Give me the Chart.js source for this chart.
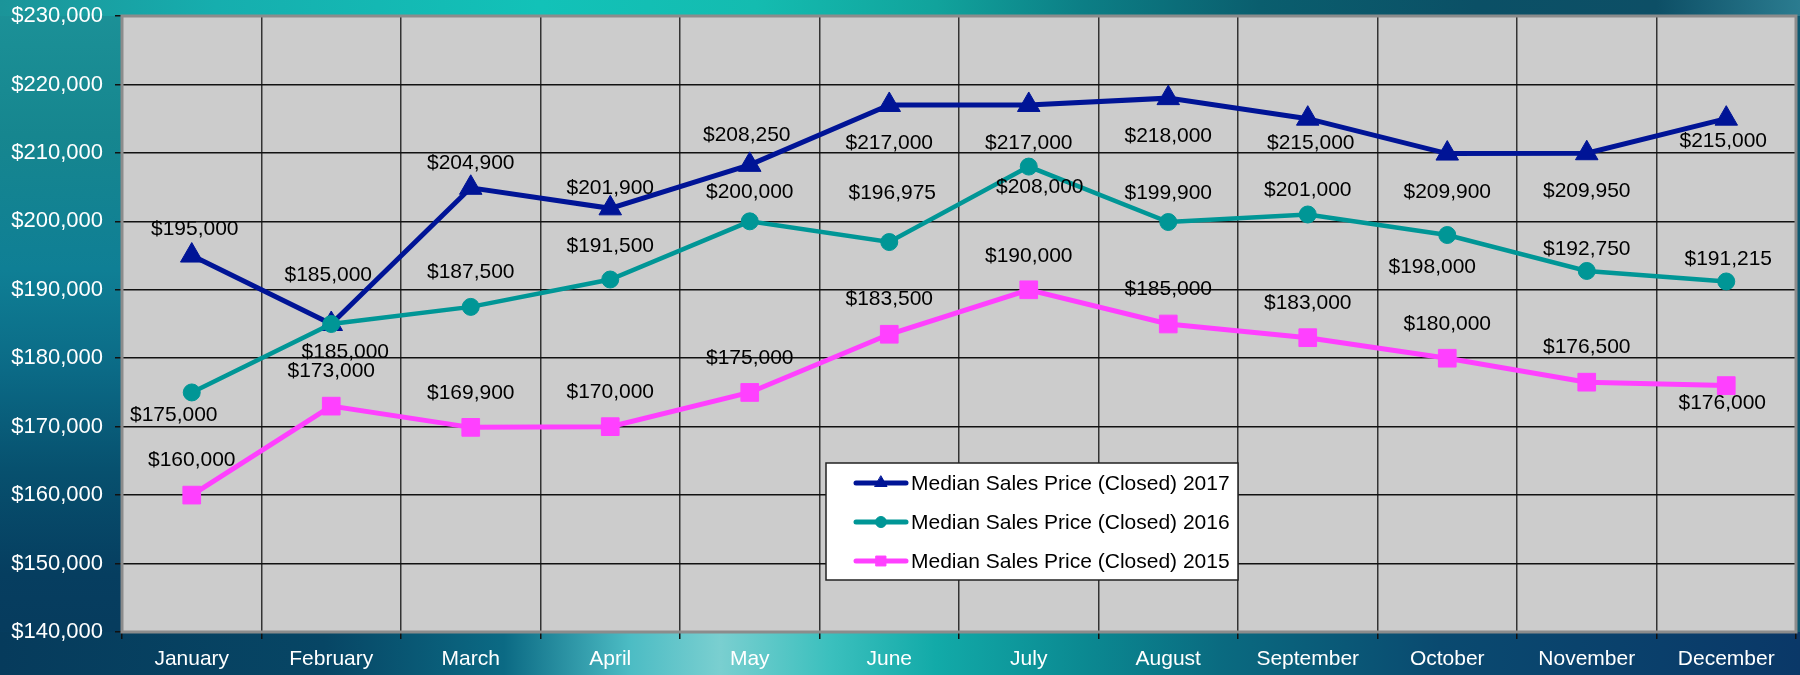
<!DOCTYPE html>
<html>
<head>
<meta charset="utf-8">
<title>Median Sales Price (Closed)</title>
<script src="https://cdn.jsdelivr.net/npm/chart.js@4.4.1/dist/chart.umd.min.js"></script>
<style>
  html, body { margin: 0; padding: 0; }
  body { width: 1800px; height: 675px; overflow: hidden; }
  #wrap {
    position: relative;
    width: 1800px;
    height: 675px;
    background:
      linear-gradient(to right, #1b9499 0%, #16aeae 12%, #12c2b8 30%, #14bcb0 42%, #11a39c 52%, #0c7f86 60%, #0a5e6e 70%, #0b5066 82%, #0d4f66 92%, #2b7c90 100%) 0 0 / 100% 16px no-repeat,
      linear-gradient(to right, #063b5c 0%, #074665 18%, #0b6a84 28%, #4cbcc4 35%, #7acfd0 40%, #3cc0be 46%, #12aaa8 52%, #0b8a92 60%, #0a6a80 68%, #0a4a70 80%, #0a3868 100%) 0 632px / 100% 43px no-repeat,
      linear-gradient(to bottom, #1c9298 0%, #16868f 20%, #0f7f95 40%, #0b6a86 55%, #07506e 70%, #063e60 85%, #063a5c 100%) 0 0 / 124px 100% no-repeat,
      #0b5870;
  }
  canvas { display: block; }
</style>
</head>
<body>
<div id="wrap">
  <canvas id="precoChart" width="1800" height="675"></canvas>
</div>
<script>
// Dados do gráfico
const months = ["January", "February", "March", "April", "May", "June",
  "July", "August", "September", "October", "November", "December"];
const seriesNames = [
  "Median Sales Price (Closed) 2017",
  "Median Sales Price (Closed) 2016",
  "Median Sales Price (Closed) 2015",
];
const price2017 = [195000, 185000, 204900, 201900, 208250, 217000, 217000, 218000, 215000, 209900, 209950, 215000];
const price2016 = [175000, 185000, 187500, 191500, 200000, 196975, 208000, 199900, 201000, 198000, 192750, 191215];
const price2015 = [160000, 173000, 169900, 170000, 175000, 183500, 190000, 185000, 183000, 180000, 176500, 176000];
const yMin = 140000;
const yMax = 230000;
const yStep = 10000;

// Deslocamento dos rótulos de valor (px) em relação ao ponto
const labelDy = [
  [-26, -49, -25, -20, -30, 38, 38, 38, 25, 39, 38, 23],
  [23, 28, -35, -33, -29, -49, 21, -29, -24, 32, -22, -22],
  [-35, -35, -34, -34, -34, -35, -34, -35, -34, -34, -35, 18],
];
const labelDx = [
  [3, -3, 0, 0, -3, 0, 0, 0, 3, 0, 0, -3],
  [-18, 14, 0, 0, 0, 3, 11, 0, 0, -15, 0, 2],
  [0, 0, 0, 0, 0, 0, 0, 0, 0, 0, 0, -4],
];

const COLORS = {
  navy: "#001496",
  teal: "#009696",
  magenta: "#ff40ff",
  plot: "#cccccc",
  frame: "#8c8c8c",
};

const FONT = '"Liberation Sans", Arial, sans-serif';
Chart.defaults.font.family = FONT;
Chart.defaults.font.size = 21;

function formatMoney(v) {
  return "$" + v.toLocaleString("en-US");
}

const plotBackground = {
  id: "plotBackground",
  beforeDraw(chart) {
    const { ctx, chartArea: a } = chart;
    ctx.save();
    ctx.fillStyle = COLORS.plot;
    ctx.fillRect(a.left, a.top, a.right - a.left, a.bottom - a.top);
    ctx.restore();
  },
};

const plotFrame = {
  id: "plotFrame",
  beforeDatasetsDraw(chart) {
    const { ctx, chartArea: a } = chart;
    ctx.save();
    ctx.strokeStyle = COLORS.frame;
    ctx.lineWidth = 3;
    ctx.strokeRect(a.left, a.top, a.right - a.left, a.bottom - a.top);
    ctx.restore();
  },
};

const valueLabels = {
  id: "valueLabels",
  afterDatasetsDraw(chart) {
    const ctx = chart.ctx;
    ctx.save();
    ctx.font = "21px " + FONT;
    ctx.fillStyle = "#000";
    ctx.textAlign = "center";
    ctx.textBaseline = "middle";
    chart.data.datasets.forEach((ds, i) => {
      const meta = chart.getDatasetMeta(i);
      meta.data.forEach((pt, j) => {
        ctx.fillText(formatMoney(ds.data[j]), pt.x + labelDx[i][j], pt.y + labelDy[i][j]);
      });
    });
    ctx.restore();
  },
};

const boxLegend = {
  id: "boxLegend",
  afterDraw(chart) {
    const ctx = chart.ctx;
    const left = 826, top = 463, width = 412, height = 117;
    const markerSize = [7, 5.5, 7];
    ctx.save();
    ctx.fillStyle = "#fff";
    ctx.fillRect(left, top, width, height);
    ctx.strokeStyle = "#222";
    ctx.lineWidth = 1.5;
    ctx.strokeRect(left, top, width, height);
    chart.data.datasets.forEach((ds, i) => {
      const y = top + 20 + i * 39;
      ctx.strokeStyle = ds.borderColor;
      ctx.lineWidth = 5;
      ctx.lineCap = "round";
      ctx.beginPath();
      ctx.moveTo(856, y);
      ctx.lineTo(906, y);
      ctx.stroke();
      ctx.fillStyle = ds.pointBackgroundColor;
      ctx.strokeStyle = ds.borderColor;
      ctx.lineWidth = 1;
      Chart.helpers.drawPoint(ctx, {
        pointStyle: ds.pointStyle,
        radius: markerSize[i],
        rotation: 0,
        borderWidth: 1,
      }, 881, y);
      ctx.fillStyle = "#000";
      ctx.font = "21px " + FONT;
      ctx.textAlign = "left";
      ctx.textBaseline = "middle";
      ctx.fillText(ds.label, 911, y + 1);
    });
    ctx.restore();
  },
};

function criarGrafico() {
  const ctx = document.getElementById("precoChart").getContext("2d");
  new Chart(ctx, {
    type: "line",
    data: {
      labels: months,
      datasets: [
        {
          label: seriesNames[0],
          data: price2017,
          borderColor: COLORS.navy,
          backgroundColor: COLORS.navy,
          pointBackgroundColor: COLORS.navy,
          borderWidth: 5,
          pointStyle: "triangle",
          pointRadius: 13,
          pointBorderWidth: 1,
          order: 2,
        },
        {
          label: seriesNames[1],
          data: price2016,
          borderColor: COLORS.teal,
          backgroundColor: COLORS.teal,
          pointBackgroundColor: COLORS.teal,
          borderWidth: 4.5,
          pointStyle: "circle",
          pointRadius: 8.5,
          pointBorderWidth: 1,
          order: 1,
        },
        {
          label: seriesNames[2],
          data: price2015,
          borderColor: COLORS.magenta,
          backgroundColor: COLORS.magenta,
          pointBackgroundColor: COLORS.magenta,
          borderWidth: 5,
          pointStyle: "rect",
          pointRadius: 12.5,
          pointBorderWidth: 1,
          order: 3,
        },
      ],
    },
    options: {
      responsive: false,
      animation: false,
      tension: 0,
      layout: {
        autoPadding: false,
        padding: { top: 16, right: 4, left: 0, bottom: 0 },
      },
      plugins: {
        legend: { display: false },
        tooltip: { enabled: false },
      },
      scales: {
        x: {
          type: "category",
          offset: true,
          afterFit(scale) {
            scale.height = 43;
            scale.paddingLeft = 0;
            scale.paddingRight = 0;
          },
          grid: {
            offset: true,
            color: "#333",
            lineWidth: 1.5,
            tickColor: "#111",
            tickLength: 7,
          },
          border: { display: false },
          ticks: {
            color: "#fff",
            padding: 8,
            maxRotation: 0,
            autoSkip: false,
            font: { size: 21 },
          },
        },
        y: {
          min: yMin,
          max: yMax,
          afterFit(scale) {
            scale.width = 122;
            scale.paddingTop = 0;
            scale.paddingBottom = 0;
          },
          grid: {
            color: "#111",
            lineWidth: 1.5,
            tickColor: "#111",
            tickLength: 7,
          },
          border: { display: false },
          ticks: {
            stepSize: yStep,
            color: "#fff",
            padding: 12,
            font: { size: 22 },
            callback: (v) => formatMoney(v),
          },
        },
      },
    },
    plugins: [plotBackground, plotFrame, valueLabels, boxLegend],
  });
}

criarGrafico();
</script>
</body>
</html>
